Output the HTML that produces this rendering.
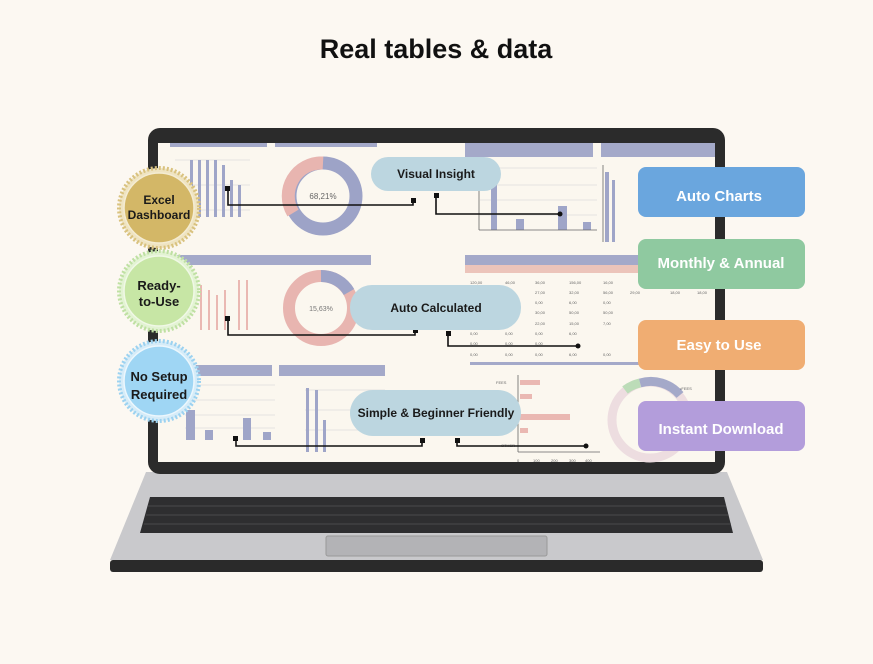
<!DOCTYPE html>
<html><head><style>
html,body{margin:0;padding:0;background:#fcf8f2;}
body{width:873px;height:659px;overflow:hidden;font-family:"Liberation Sans",sans-serif;}
</style></head><body>
<svg width="873" height="659" viewBox="0 0 873 659" xmlns="http://www.w3.org/2000/svg" font-family="Liberation Sans, sans-serif">
<rect width="873" height="659" fill="#fcf8f2"/>
<text x="436" y="58" text-anchor="middle" font-size="27" font-weight="bold" fill="#111">Real tables &amp; data</text>

<!-- base -->
<path d="M146 472 L727 472 L763 560 L110 560 Z" fill="#c9c9cc"/>
<rect x="110" y="560" width="653" height="12" rx="3" fill="#2a2a2a"/>
<path d="M150 497 L724 497 L733 533 L140 533 Z" fill="#2e2e30"/>
<g stroke="#4a4a4c" stroke-width="1">
<line x1="148" y1="506" x2="726" y2="506"/><line x1="146" y1="515" x2="728" y2="515"/><line x1="144" y1="524" x2="731" y2="524"/>
</g>
<rect x="326" y="536" width="221" height="20" rx="2" fill="#b3b3b6" stroke="#999" />
<!-- lid -->
<rect x="148" y="128" width="577" height="346" rx="12" fill="#2b2b2b"/>
<rect x="158" y="143" width="557" height="319" fill="#fbf7ef"/>

<!-- screen content -->
<g fill="#a4a9c9">
<rect x="170" y="143" width="97" height="4"/><rect x="275" y="143" width="102" height="4"/>
<rect x="465" y="143" width="128" height="14"/><rect x="601" y="143" width="114" height="14"/>
<rect x="168" y="255" width="203" height="10"/>
<rect x="465" y="255" width="250" height="10"/>
<rect x="168" y="365" width="104" height="11"/><rect x="279" y="365" width="106" height="11"/>
<rect x="470" y="362" width="200" height="3"/>
</g>
<rect x="465" y="265" width="250" height="8" fill="#ecc4ba"/>
<g font-size="4" fill="#666">
<text x="470" y="284">120,00</text><text x="505" y="284">46,00</text><text x="535" y="284">36,00</text><text x="569" y="284">156,00</text><text x="603" y="284">16,00</text>
<text x="535" y="294">27,00</text><text x="569" y="294">32,00</text><text x="603" y="294">56,00</text><text x="630" y="294">29,00</text><text x="670" y="294">18,00</text><text x="697" y="294">18,00</text>
<text x="535" y="304">0,00</text><text x="569" y="304">6,00</text><text x="603" y="304">0,00</text>
<text x="535" y="314">30,00</text><text x="569" y="314">50,00</text><text x="603" y="314">50,00</text>
<text x="535" y="325">22,00</text><text x="569" y="325">15,00</text><text x="603" y="325">7,00</text>
<text x="470" y="335">0,00</text><text x="505" y="335">0,00</text><text x="535" y="335">0,00</text><text x="569" y="335">6,00</text>
<text x="470" y="345">0,00</text><text x="505" y="345">0,00</text><text x="535" y="345">0,00</text>
<text x="470" y="356">0,00</text><text x="505" y="356">0,00</text><text x="535" y="356">0,00</text><text x="569" y="356">6,00</text><text x="603" y="356">0,00</text>
</g>
<!-- charts -->
<g stroke="#ddd" stroke-width="0.7">
<line x1="175" y1="160" x2="250" y2="160"/><line x1="175" y1="185" x2="250" y2="185"/><line x1="175" y1="210" x2="250" y2="210"/>
<line x1="480" y1="168" x2="597" y2="168"/><line x1="480" y1="185" x2="597" y2="185"/><line x1="480" y1="200" x2="597" y2="200"/><line x1="480" y1="215" x2="597" y2="215"/>
<line x1="185" y1="385" x2="275" y2="385"/><line x1="185" y1="400" x2="275" y2="400"/><line x1="185" y1="415" x2="275" y2="415"/><line x1="185" y1="428" x2="275" y2="428"/>
<line x1="305" y1="390" x2="385" y2="390"/><line x1="305" y1="410" x2="385" y2="410"/><line x1="305" y1="430" x2="385" y2="430"/>
</g>
<g fill="#9fa5c8">
<rect x="190" y="160" width="3" height="57"/><rect x="198" y="160" width="3" height="57"/><rect x="206" y="160" width="3" height="57"/><rect x="214" y="160" width="3" height="57"/><rect x="222" y="165" width="3" height="52"/><rect x="230" y="180" width="3" height="37"/><rect x="238" y="185" width="3" height="32"/>
<rect x="491" y="170" width="6" height="60"/><rect x="516" y="219" width="8" height="11"/><rect x="558" y="206" width="9" height="24"/><rect x="583" y="222" width="8" height="8"/>
<rect x="605" y="172" width="4" height="70"/><rect x="612" y="180" width="3" height="62"/>
<rect x="186" y="410" width="9" height="30"/><rect x="205" y="430" width="8" height="10"/><rect x="243" y="418" width="8" height="22"/><rect x="263" y="432" width="8" height="8"/>
<rect x="306" y="388" width="3" height="64"/><rect x="315" y="390" width="3" height="62"/><rect x="323" y="420" width="3" height="32"/>
</g>
<g fill="#eab8b2">
<rect x="200" y="285" width="2" height="45"/><rect x="208" y="290" width="2" height="40"/><rect x="216" y="295" width="2" height="35"/><rect x="224" y="290" width="2" height="40"/><rect x="238" y="280" width="2" height="50"/><rect x="246" y="280" width="2" height="50"/>
<rect x="520" y="380" width="20" height="5"/><rect x="520" y="394" width="12" height="5"/><rect x="520" y="414" width="50" height="6"/><rect x="520" y="428" width="8" height="5"/>
</g>
<g stroke="#666" stroke-width="0.8">
<line x1="479" y1="165" x2="479" y2="230"/><line x1="479" y1="230" x2="597" y2="230"/>
<line x1="518" y1="375" x2="518" y2="452"/><line x1="518" y1="452" x2="600" y2="452"/>
<line x1="603" y1="165" x2="603" y2="242"/>
</g>
<!-- donuts -->
<circle cx="323" cy="196" r="33" fill="none" stroke="#9da3c7" stroke-width="13"/>
<path d="M323 163 A33 33 0 0 0 293 213" fill="none" stroke="#e8b5b0" stroke-width="13"/>
<text x="323" y="199" text-anchor="middle" font-size="8" fill="#666">68,21%</text>
<circle cx="321" cy="308" r="32" fill="none" stroke="#e8b5b0" stroke-width="12"/>
<path d="M321 276 A32 32 0 0 1 349 292" fill="none" stroke="#9da3c7" stroke-width="12"/>
<text x="321" y="311" text-anchor="middle" font-size="7" fill="#777">15,63%</text>
<circle cx="650" cy="420" r="38" fill="none" stroke="#eddde0" stroke-width="9"/>
<path d="M640 383 A38 38 0 0 1 680 395" fill="none" stroke="#a4a9c9" stroke-width="9"/>
<path d="M625 390 A38 38 0 0 1 640 383" fill="none" stroke="#bcdcb8" stroke-width="9"/>
<g font-size="4" fill="#666"><text x="496" y="384">FEES</text><text x="501" y="447">OTHER</text><text x="680" y="390">•FEES</text>
<text x="517" y="462">0</text><text x="533" y="462">100</text><text x="551" y="462">200</text><text x="569" y="462">300</text><text x="585" y="462">400</text></g>

<!-- connectors -->
<g stroke="#111" stroke-width="1.6" fill="none">
<polyline points="228,188 228,205 413,205 413,200"/>
<polyline points="436,195 436,214 560,214"/>
<polyline points="228,319 228,335 415,335 415,330"/>
<polyline points="448,334 448,346 578,346"/>
<polyline points="236,438 236,446 422,446 422,440"/>
<polyline points="457,440 457,446 586,446"/>
</g>
<g fill="#111">
<rect x="225" y="186" width="5" height="5"/><rect x="411" y="198" width="5" height="5"/><rect x="434" y="193" width="5" height="5"/><circle cx="560" cy="214" r="2.5"/>
<rect x="225" y="316" width="5" height="5"/><rect x="413" y="328" width="5" height="5"/><rect x="446" y="331" width="5" height="5"/><circle cx="578" cy="346" r="2.5"/>
<rect x="233" y="436" width="5" height="5"/><rect x="420" y="438" width="5" height="5"/><rect x="455" y="438" width="5" height="5"/><circle cx="586" cy="446" r="2.5"/>
</g>

<!-- bubbles -->
<rect x="371" y="157" width="130" height="34" rx="17" fill="#bcd6e0"/>
<text x="436" y="178" text-anchor="middle" font-size="12" font-weight="bold" fill="#1a1a1a">Visual Insight</text>
<rect x="350" y="285" width="171" height="45" rx="22" fill="#bcd6e0"/>
<text x="436" y="312" text-anchor="middle" font-size="12" font-weight="bold" fill="#1a1a1a">Auto Calculated</text>
<rect x="350" y="390" width="171" height="46" rx="23" fill="#bcd6e0"/>
<text x="436" y="417" text-anchor="middle" font-size="12" font-weight="bold" fill="#1a1a1a">Simple &amp; Beginner Friendly</text>

<!-- badges -->
<g>
<circle cx="159" cy="208" r="40" fill="#efe4c2" stroke="#d9c27f" stroke-width="4" stroke-dasharray="2 2"/>
<circle cx="159" cy="208" r="35" fill="#d3b767" stroke="#f4ecd3" stroke-width="1.5"/>
<text x="159" y="204" text-anchor="middle" font-size="12" font-weight="bold" fill="#1a1a1a">Excel</text>
<text x="159" y="219" text-anchor="middle" font-size="12" font-weight="bold" fill="#1a1a1a">Dashboard</text>
<circle cx="159" cy="291" r="40" fill="#e3f3d3" stroke="#bfe0a3" stroke-width="4" stroke-dasharray="2 2"/>
<circle cx="159" cy="291" r="35" fill="#c7e6a5" stroke="#f0f8e6" stroke-width="1.5"/>
<text x="159" y="290" text-anchor="middle" font-size="13" font-weight="bold" fill="#1a1a1a">Ready-</text>
<text x="159" y="306" text-anchor="middle" font-size="13" font-weight="bold" fill="#1a1a1a">to-Use</text>
<circle cx="159" cy="381" r="40" fill="#d6ecf8" stroke="#9cd2f0" stroke-width="4" stroke-dasharray="2 2"/>
<circle cx="159" cy="381" r="35" fill="#9fd6f4" stroke="#ecf7fd" stroke-width="1.5"/>
<text x="159" y="381" text-anchor="middle" font-size="13" font-weight="bold" fill="#1a1a1a">No Setup</text>
<text x="159" y="399" text-anchor="middle" font-size="13" font-weight="bold" fill="#1a1a1a">Required</text>
</g>

<!-- right boxes -->
<rect x="638" y="167" width="167" height="50" rx="8" fill="#6aa6de"/>
<text x="719" y="201" text-anchor="middle" font-size="15" font-weight="bold" fill="#fff">Auto Charts</text>
<rect x="638" y="239" width="167" height="50" rx="8" fill="#8fc9a0"/>
<text x="721" y="268" text-anchor="middle" font-size="15" font-weight="bold" fill="#fff">Monthly &amp; Annual</text>
<rect x="638" y="320" width="167" height="50" rx="8" fill="#f0ad72"/>
<text x="719" y="350" text-anchor="middle" font-size="15" font-weight="bold" fill="#fff">Easy to Use</text>
<rect x="638" y="401" width="167" height="50" rx="8" fill="#b39ddb"/>
<text x="721" y="434" text-anchor="middle" font-size="15" font-weight="bold" fill="#fff">Instant Download</text>
</svg>
</body></html>
